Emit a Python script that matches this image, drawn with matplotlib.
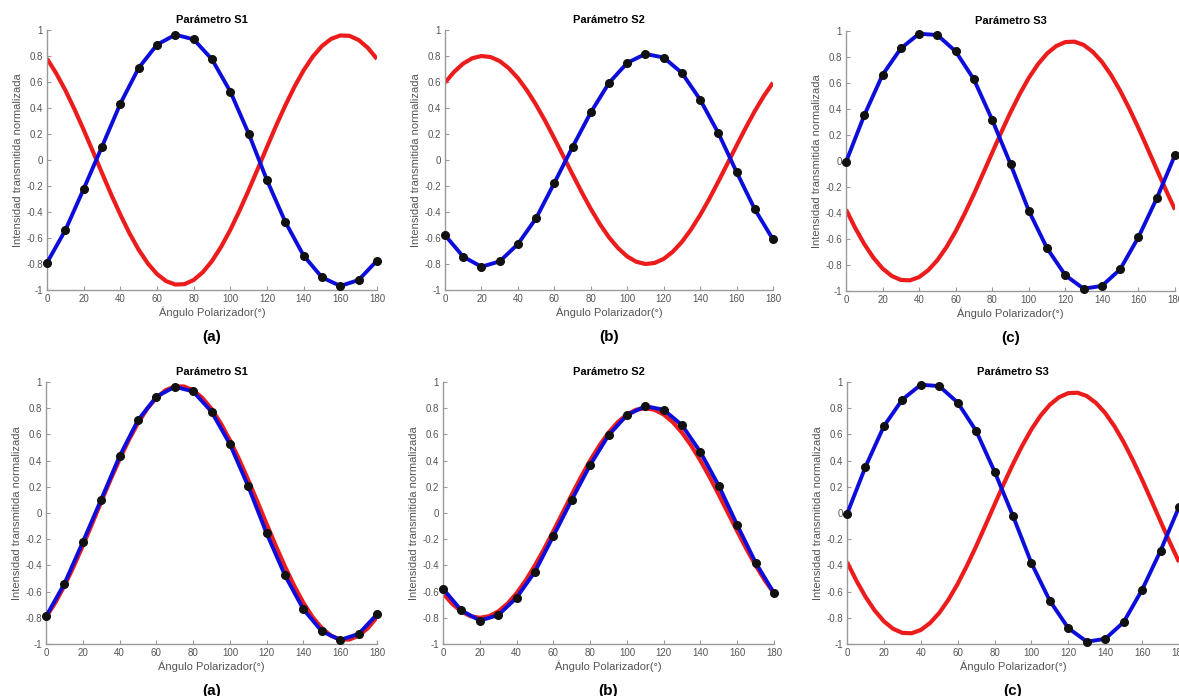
import matplotlib
matplotlib.use('Agg')
from matplotlib import pyplot as plt

plt.rcParams['font.family'] = ['Liberation Sans', 'DejaVu Sans']

# measured angles (every 10 degrees) and model curve angles (every 5 degrees)
ang = list(range(0, 181, 10))
ang_fine = list(range(0, 181, 5))

s1_meas = [-0.79, -0.54, -0.223, 0.103, 0.433, 0.708, 0.887, 0.964, 0.928, 0.774,
           0.526, 0.203, -0.156, -0.477, -0.736, -0.903, -0.969, -0.923, -0.774]
s2_meas = [-0.578, -0.744, -0.821, -0.78, -0.647, -0.448, -0.176, 0.10, 0.366, 0.593,
           0.747, 0.816, 0.788, 0.67, 0.465, 0.207, -0.092, -0.379, -0.611]
s3_meas = [-0.008, 0.352, 0.663, 0.866, 0.979, 0.969, 0.843, 0.627, 0.316, -0.023,
           -0.383, -0.671, -0.879, -0.982, -0.961, -0.833, -0.586, -0.288, 0.046]

s1_red_top = [0.78, 0.667, 0.537, 0.39, 0.232, 0.067, -0.10, -0.265, -0.42, -0.564,
              -0.69, -0.796, -0.877, -0.932, -0.958, -0.955, -0.923, -0.863, -0.777,
              -0.667, -0.537, -0.39, -0.232, -0.067, 0.10, 0.265, 0.42, 0.564, 0.69,
              0.796, 0.877, 0.932, 0.958, 0.955, 0.923, 0.863, 0.777]
s2_red_top = [0.595, 0.678, 0.742, 0.783, 0.80, 0.792, 0.761, 0.706, 0.63, 0.535,
              0.424, 0.30, 0.166, 0.028, -0.111, -0.247, -0.376, -0.493, -0.595,
              -0.678, -0.742, -0.783, -0.80, -0.792, -0.761, -0.706, -0.63, -0.535,
              -0.424, -0.30, -0.166, -0.028, 0.111, 0.247, 0.376, 0.493, 0.595]
s3_red = [-0.374, -0.514, -0.639, -0.744, -0.827, -0.884, -0.915, -0.918, -0.893, -0.84,
          -0.763, -0.662, -0.541, -0.403, -0.254, -0.096, 0.064, 0.223, 0.374, 0.514,
          0.639, 0.744, 0.827, 0.884, 0.915, 0.918, 0.893, 0.84, 0.763, 0.662, 0.541,
          0.403, 0.254, 0.096, -0.064, -0.223, -0.374]
s1_red_bot = [-0.795, -0.686, -0.556, -0.41, -0.251, -0.085, 0.085, 0.251, 0.41, 0.556,
              0.686, 0.795, 0.879, 0.937, 0.966, 0.966, 0.937, 0.879, 0.795, 0.686,
              0.556, 0.41, 0.251, 0.085, -0.085, -0.251, -0.41, -0.556, -0.686, -0.795,
              -0.879, -0.937, -0.966, -0.966, -0.937, -0.879, -0.795]
s2_red_bot = [-0.613, -0.693, -0.752, -0.788, -0.80, -0.788, -0.752, -0.693, -0.613,
              -0.514, -0.40, -0.274, -0.139, 0.0, 0.139, 0.274, 0.40, 0.514, 0.613,
              0.693, 0.752, 0.788, 0.80, 0.788, 0.752, 0.693, 0.613, 0.514, 0.40,
              0.274, 0.139, 0.0, -0.139, -0.274, -0.40, -0.514, -0.613]

titles = ['Parámetro S1', 'Parámetro S2', 'Parámetro S3']
letters = ['(a)', '(b)', '(c)']
yticks = [-1, -0.8, -0.6, -0.4, -0.2, 0, 0.2, 0.4, 0.6, 0.8, 1]
ytick_labels = ['-1', '-0.8', '-0.6', '-0.4', '-0.2', '0', '0.2', '0.4', '0.6', '0.8', '1']
xticks = list(range(0, 181, 20))

panels = [
    (s1_meas, s1_red_top), (s2_meas, s2_red_top), (s3_meas, s3_red),
    (s1_meas, s1_red_bot), (s2_meas, s2_red_bot), (s3_meas, s3_red),
]

W, H = 1179, 696
fig = plt.figure(figsize=(W / 100, H / 100), dpi=100)

# axes boxes in pixels: left, top, right, bottom
boxes = [
    (47, 30, 377, 290), (445, 30, 773, 290), (846, 31, 1175, 291),
    (46, 382, 377, 644), (443, 382, 774, 644), (847, 382, 1179, 644),
]
grey = '#555555'

for i, ((blue, red), (l, t, r, b)) in enumerate(zip(panels, boxes)):
    ax = fig.add_axes([l / W, 1 - b / H, (r - l) / W, (b - t) / H])
    ax.plot(ang_fine, red, color='#ec1c1c', lw=3.0, zorder=2, solid_capstyle='butt')
    ax.plot(ang, blue, color='#0d0ddb', lw=2.8, zorder=3, clip_on=False,
            marker='o', markersize=5.5, markerfacecolor='#111111',
            markeredgecolor='#111111')
    ax.set_xlim(0, 180)
    ax.set_ylim(-1, 1)
    ax.set_xticks(xticks)
    ax.set_yticks(yticks)
    ax.set_yticklabels(ytick_labels)
    ax.spines['right'].set_visible(False)
    ax.spines['top'].set_visible(False)
    for s in ('left', 'bottom'):
        ax.spines[s].set_color('#9a9a9a')
        ax.spines[s].set_linewidth(1.0)
    ax.tick_params(direction='in', length=3, width=0.8, color='#9a9a9a',
                   labelsize=7, labelcolor=grey, pad=3)
    ax.set_title(titles[i % 3], fontsize=8, fontweight='bold', pad=5)
    ax.set_xlabel('Ángulo Polarizador(°)', fontsize=8, color=grey, labelpad=2)
    ax.set_ylabel('Intensidad transmitida normalizada', fontsize=8, color=grey, labelpad=2)
    fig.text((l + r) / 2 / W, 1 - (b + 47) / H, letters[i % 3], ha='center',
             va='center', fontsize=11, fontweight='bold')

fig.savefig('out.png', dpi=100)
